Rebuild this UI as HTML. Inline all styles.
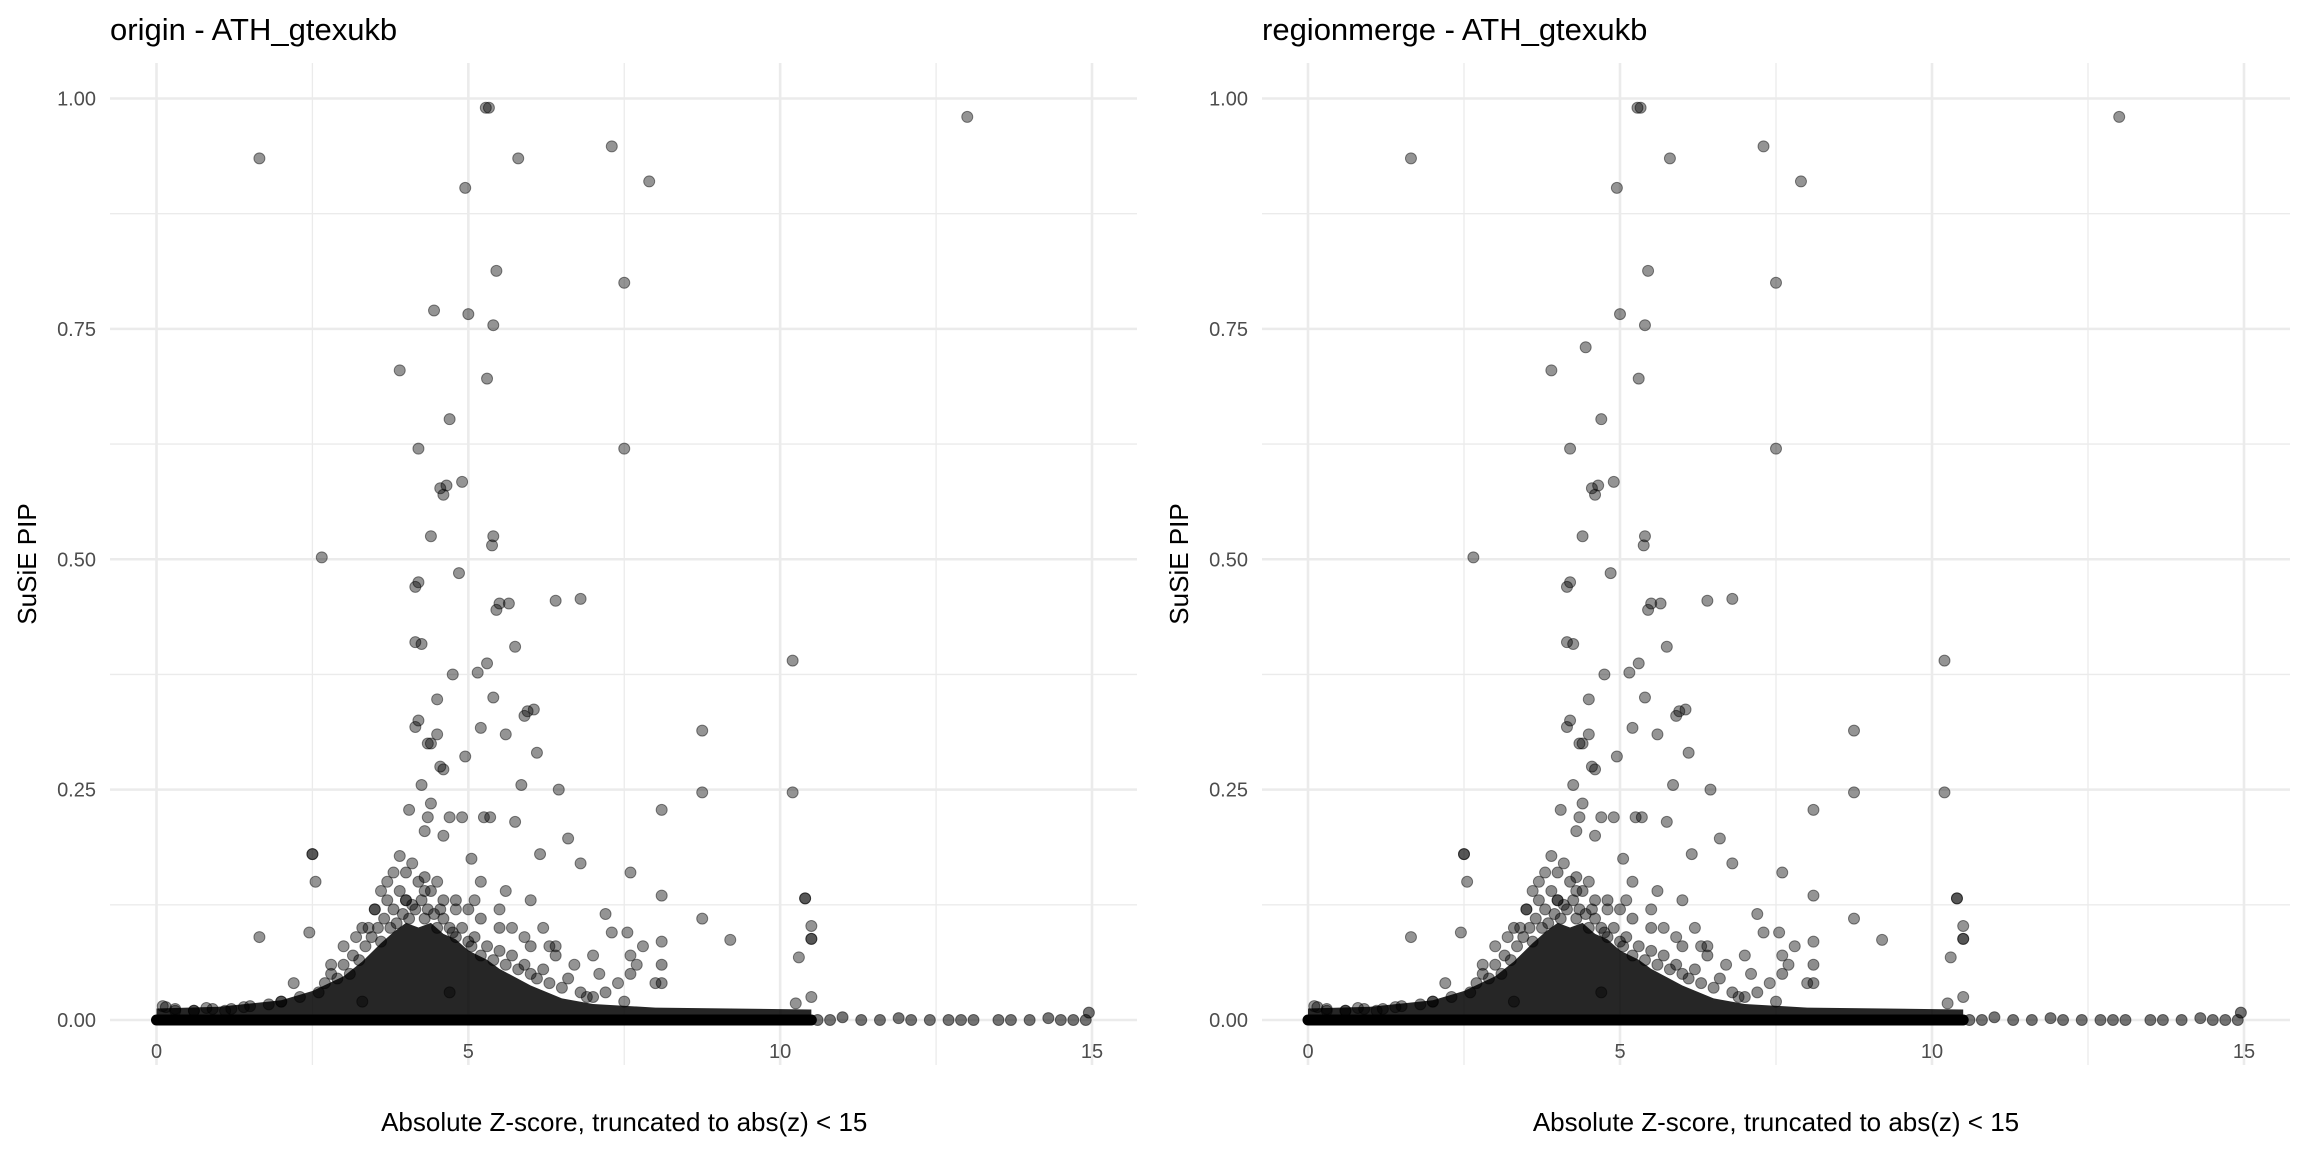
<!DOCTYPE html>
<html><head><meta charset="utf-8"><style>
html,body{margin:0;padding:0;background:#fff;}
svg{display:block;font-family:"Liberation Sans",sans-serif;}
</style></head><body>
<svg id="chart" width="2304" height="1152" viewBox="0 0 2304 1152" xmlns="http://www.w3.org/2000/svg"></svg>
<script>
const xTicks=[0,5,10,15];
const xMinor=[2.5,7.5,12.5];
const yTicks=[0,0.25,0.5,0.75,1.0];
const yTickLabels=["0.00","0.25","0.50","0.75","1.00"];
const yMinor=[0.125,0.375,0.625,0.875];
const panelTitles=["origin - ATH_gtexukb","regionmerge - ATH_gtexukb"];
const ptX=[1.65,5.28,5.33,13.0,7.3,5.8,7.9,4.95,5.45,7.5,4.45,5.0,5.4,3.9,5.3,4.7,4.2,7.5,4.9,4.65,4.55,4.6,5.4,4.4,5.38,2.65,4.85,4.2,4.15,5.5,5.65,5.45,6.4,6.8,4.15,4.25,5.75,5.3,10.2,5.15,4.75,4.5,5.4,5.95,6.05,5.9,4.2,4.15,8.75,5.2,4.5,5.6,4.4,4.35,4.95,6.1,4.55,4.6,5.85,4.25,6.45,8.75,10.2,4.05,4.4,8.1,4.35,4.7,4.9,5.25,5.35,5.75,4.3,4.6,6.6,2.5,3.9,4.1,5.05,6.15,6.8,2.55,7.6,8.1,10.4,7.2,8.75,7.3,1.65,2.45,9.2,10.5,10.5,10.3,8.1,7.55,7.6,10.5,10.25,3.6,3.7,3.8,4.0,4.3,4.5,4.8,5.1,5.2,5.5,5.7,5.9,6.2,6.4,6.7,7.0,7.1,7.4,7.7,8.0,3.3,3.4,3.5,3.2,3.0,2.8,2.2,6.9,7.8,4.7,5.6,6.0,6.3,0.1,0.3,0.6,0.8,1.1,1.4,2.0,2.5,10.4,10.5];
const ptY=[0.935,0.99,0.99,0.98,0.948,0.935,0.91,0.903,0.813,0.80,0.77,0.766,0.754,0.705,0.696,0.652,0.62,0.62,0.584,0.58,0.577,0.57,0.525,0.525,0.515,0.502,0.485,0.475,0.47,0.452,0.452,0.445,0.455,0.457,0.41,0.408,0.405,0.387,0.39,0.377,0.375,0.348,0.35,0.335,0.337,0.33,0.325,0.318,0.314,0.317,0.31,0.31,0.30,0.30,0.286,0.29,0.275,0.272,0.255,0.255,0.25,0.247,0.247,0.228,0.235,0.228,0.22,0.22,0.22,0.22,0.22,0.215,0.205,0.2,0.197,0.18,0.178,0.17,0.175,0.18,0.17,0.15,0.16,0.135,0.132,0.115,0.11,0.095,0.09,0.095,0.087,0.102,0.088,0.068,0.085,0.095,0.07,0.025,0.018,0.14,0.15,0.16,0.13,0.14,0.15,0.12,0.13,0.15,0.12,0.1,0.09,0.1,0.08,0.06,0.07,0.05,0.04,0.06,0.04,0.02,0.1,0.12,0.09,0.08,0.06,0.04,0.025,0.08,0.03,0.14,0.13,0.08,0.015,0.012,0.01,0.013,0.01,0.014,0.02,0.18,0.132,0.088];
const blobX=[2.6,2.7,2.8,2.9,3.0,3.1,3.15,3.25,3.35,3.45,3.55,3.6,3.65,3.75,3.8,3.85,3.95,4.0,4.05,4.1,4.15,4.25,4.3,4.35,4.45,4.5,4.55,4.6,4.7,4.75,4.8,4.9,5.0,5.05,5.1,5.2,5.3,5.4,5.5,5.6,5.7,5.8,5.9,6.0,6.1,6.2,6.3,6.5,6.6,6.8,7.0,7.2,7.5,7.6,8.1,8.1,3.9,4.2,4.4,4.6,4.8,5.2,5.5,3.7,3.5,3.3,4.0,4.3,5.0,6.0,6.4,2.3,2.0,1.8,1.5,1.2,0.9,0.6,0.3,0.15];
const blobY=[0.03,0.04,0.05,0.045,0.06,0.05,0.07,0.065,0.08,0.09,0.1,0.085,0.11,0.1,0.12,0.105,0.115,0.13,0.11,0.125,0.12,0.13,0.11,0.12,0.115,0.1,0.12,0.11,0.1,0.095,0.09,0.1,0.085,0.08,0.09,0.07,0.08,0.065,0.075,0.06,0.07,0.055,0.06,0.05,0.045,0.055,0.04,0.035,0.045,0.03,0.025,0.03,0.02,0.05,0.06,0.04,0.14,0.15,0.14,0.13,0.13,0.11,0.1,0.13,0.12,0.1,0.16,0.155,0.12,0.08,0.07,0.025,0.02,0.017,0.015,0.012,0.012,0.01,0.01,0.014];
const envX=[0,1,2,2.5,3,3.3,3.6,3.8,4.0,4.2,4.4,4.6,4.8,5,5.3,5.5,6,6.5,7,8,10.5];
const envY=[0.007,0.009,0.016,0.026,0.042,0.058,0.078,0.09,0.1,0.095,0.1,0.088,0.082,0.07,0.06,0.05,0.032,0.018,0.012,0.008,0.006];
const tailX=[10.6,10.8,11.0,11.3,11.6,11.9,12.1,12.4,12.7,12.9,13.1,13.5,13.7,14.0,14.3,14.5,14.7,14.9,14.95];
const tailY=[0,0,0.003,0,0,0.002,0,0,0,0,0,0,0,0,0.002,0,0,0,0.008];
const panels=[{left:110,right:1137,x0:156.5,x15:1092},{left:1262,right:2290,x0:1308,x15:2244}];
const plotTop=63,plotBottom=1065,y0px=1020,y1px=98.5;
const NS="http://www.w3.org/2000/svg";
const svg=document.getElementById('chart');
function el(t,a,p){const e=document.createElementNS(NS,t);for(const k in a)e.setAttribute(k,a[k]);(p||svg).appendChild(e);return e;}
panels.forEach((P,pi)=>{
  const sx=v=>P.x0+(P.x15-P.x0)*v/15;
  const sy=v=>y0px+(y1px-y0px)*v;
  const g=el('g',{});
  
  
  xMinor.forEach(v=>{const l=el('line',{x1:sx(v),x2:sx(v),y1:plotTop,y2:plotBottom,stroke:'#ebebeb','stroke-width':1.3},g);});
  yMinor.forEach(v=>{const l=el('line',{x1:P.left,x2:P.right,y1:sy(v),y2:sy(v),stroke:'#ebebeb','stroke-width':1.3},g);});
  xTicks.forEach(v=>{const l=el('line',{x1:sx(v),x2:sx(v),y1:plotTop,y2:plotBottom,stroke:'#ebebeb','stroke-width':2.6},g);
    const t=el('text',{x:sx(v),y:1058,'text-anchor':'middle','font-size':20,fill:'#4d4d4d'},g);t.textContent=v;});
  yTicks.forEach((v,i)=>{const l=el('line',{x1:P.left,x2:P.right,y1:sy(v),y2:sy(v),stroke:'#ebebeb','stroke-width':2.6},g);
    const t=el('text',{x:P.left-14,y:sy(v)+7,'text-anchor':'end','font-size':20,fill:'#4d4d4d'},g);t.textContent=yTickLabels[i];});
  let d='M'+sx(envX[0])+','+(sy(0)+5.5);
  envX.forEach((v,i)=>{d+=' L'+sx(v)+','+(sy(envY[i])-5);});
  d+=' L'+sx(envX[envX.length-1])+','+(sy(0)+5.5)+' Z';
  const env=el('path',{d:d,fill:'#000','fill-opacity':0.85},g);
  
  
  const base=el('line',{x1:sx(0),x2:sx(10.5),y1:sy(0),y2:sy(0),stroke:'#000','stroke-width':11,'stroke-linecap':'round'},g);
  
  
  blobX.forEach((v,i)=>{const c=el('circle',{cx:sx(v),cy:sy(blobY[i]),r:5.5,fill:'#000','fill-opacity':0.45,stroke:'#000','stroke-opacity':0.45,'stroke-width':1},g);});
  tailX.forEach((v,i)=>{const c=el('circle',{cx:sx(v),cy:sy(tailY[i]),r:5.5,fill:'#000','fill-opacity':0.55,stroke:'#000','stroke-opacity':0.5,'stroke-width':1},g);});
  ptX.forEach((v,i)=>{let yv=ptY[i];if(pi===1&&i===10)yv=0.73;
    const c=el('circle',{cx:sx(v),cy:sy(yv),r:5.5,fill:'#000','fill-opacity':0.42,stroke:'#000','stroke-opacity':0.45,'stroke-width':1},g);});
  const tt=el('text',{x:P.left,y:40,'font-size':31,fill:'#000'},g);tt.textContent=panelTitles[pi];
  
  
  const xt=el('text',{x:(sx(0)+sx(15))/2,y:1131,'text-anchor':'middle','font-size':26,fill:'#000'},g);xt.textContent='Absolute Z-score, truncated to abs(z) < 15';
  
  
  const cy=(plotTop+plotBottom)/2;
  const yt=el('text',{x:P.left-74,y:cy,'text-anchor':'middle','font-size':26,fill:'#000',transform:'rotate(-90 '+(P.left-74)+' '+cy+')'},g);yt.textContent='SuSiE PIP';
  
  
});
</script>
</body></html>
